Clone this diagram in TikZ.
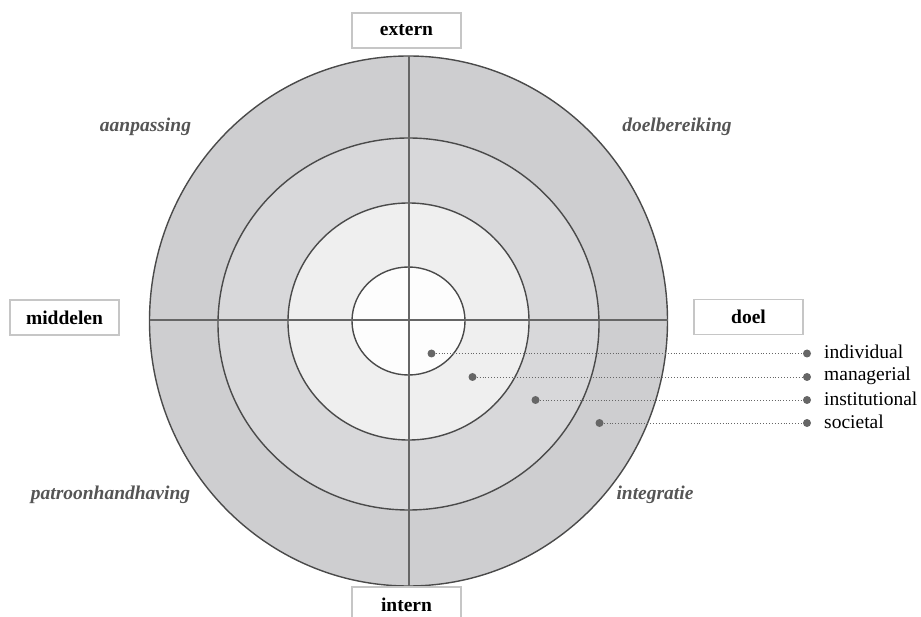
\documentclass[tikz,border=0pt]{standalone}
\usepackage{fontspec}
\setmainfont{Liberation Serif}
\definecolor{ringA}{HTML}{CECED0}
\definecolor{ringB}{HTML}{D8D8DA}
\definecolor{ringC}{HTML}{EFEFEF}
\definecolor{ringD}{HTML}{FDFDFD}
\definecolor{edge}{HTML}{4A4A4A}
\definecolor{crossc}{HTML}{666666}
\definecolor{boxc}{HTML}{C6C6C6}
\definecolor{labc}{HTML}{555555}
\definecolor{dotc}{HTML}{666666}
\begin{document}
\begin{tikzpicture}[x=1pt,y=-1pt,
  ring/.style={draw=edge,line width=1.4pt},
  axisbox/.style={draw=boxc,line width=1.5pt,fill=white,minimum width=109pt,minimum height=35pt,inner sep=0pt,font=\fontsize{19.5}{22}\selectfont\bfseries,text=black},
  quad/.style={font=\fontsize{19.5}{22}\selectfont\bfseries\itshape,text=labc,inner sep=0pt},
  dotn/.style={circle,fill=dotc,minimum size=8pt,inner sep=0pt},
  leg/.style={font=\fontsize{19.5}{22}\selectfont,text=black,anchor=west,inner sep=0pt},
  link/.style={dotc,line width=0.9pt,dotted}]
\useasboundingbox (0,0) rectangle (921,617);
\coordinate (co) at (408.5,321);
\coordinate (c2) at (408.5,324);
\coordinate (c3) at (408.5,321.5);
\coordinate (c4) at (408.5,321);
\fill[fill=ringA] (co) ellipse [x radius=259, y radius=265];
\fill[fill=ringB] (c2) ellipse [x radius=190.5, y radius=186];
\fill[fill=ringC] (c3) ellipse [x radius=120.5, y radius=118.5];
\fill[fill=ringD] (c4) ellipse [x radius=56.5, y radius=54];
\draw[ring] (co) ellipse [x radius=259, y radius=265];
\draw[ring] (c2) ellipse [x radius=190.5, y radius=186];
\draw[ring] (c3) ellipse [x radius=120.5, y radius=118.5];
\draw[ring] (c4) ellipse [x radius=56.5, y radius=54];
\coordinate (L) at (149.5,320);
\coordinate (R) at (667.5,320);
\coordinate (T) at (408.5,56);
\coordinate (B) at (408.5,586);
\draw[crossc,line width=2pt] (L) -- (R);
\draw[crossc,line width=2pt] (T) -- (B);
% axis boxes
\node[axisbox] (extern) at (406.5,30.5) {extern};
\node[axisbox] (intern) at (406.5,604.5) {intern};
\node[axisbox] (middelen) at (64.5,317.5) {middelen};
\node[axisbox] (doel) at (748.5,317) {doel};
% quadrant labels
\node[quad] (aan) at (145.5,127) {aanpassing};
\node[quad] (doelb) at (677,127) {doelbereiking};
\node[quad] (patr) at (110.5,495) {patroonhandhaving};
\node[quad] (integ) at (655,495) {integratie};
% dots
\node[dotn] (d1) at (431.5,353.5) {};
\node[dotn] (d2) at (472.5,377) {};
\node[dotn] (d3) at (535.5,400) {};
\node[dotn] (d4) at (599.5,423) {};
\node[dotn] (e1) at (807,353.5) {};
\node[dotn] (e2) at (807,377) {};
\node[dotn] (e3) at (807,400) {};
\node[dotn] (e4) at (807,423) {};
\draw[link] (d1) -- (e1);
\draw[link] (d2) -- (e2);
\draw[link] (d3) -- (e3);
\draw[link] (d4) -- (e4);
\node[leg] (t1) at (824,352) {individual};
\node[leg] (t2) at (824,376) {managerial};
\node[leg] (t3) at (824,399) {institutional};
\node[leg] (t4) at (824,422) {societal};
\end{tikzpicture}
\end{document}
